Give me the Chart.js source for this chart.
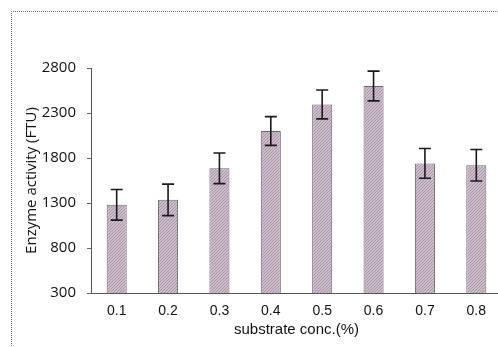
<!DOCTYPE html>
<html>
<head>
<meta charset="utf-8">
<script src="https://cdn.jsdelivr.net/npm/chart.js@4.4.1/dist/chart.umd.min.js"></script>
<style>
    html, body { margin: 0; padding: 0; background: #fff; overflow: hidden; }
    #wrap { position: relative; width: 498px; height: 347px; overflow: hidden; }
    #frame {
        position: absolute; left: 11px; top: 11px; width: 600px; height: 400px;
        border-left: 1px dotted #666; border-top: 1px dotted #777;
    }
    #chartBox { position: absolute; left: 0; top: 0; width: 506px; height: 347px; }
</style>
</head>
<body>
<div id="wrap">
    <div id="frame"></div>
    <div id="chartBox"><canvas id="enzymeChart"></canvas></div>
</div>
<script>
// values
const concLabels = ['0.1', '0.2', '0.3', '0.4', '0.5', '0.6', '0.7', '0.8'];
const activity = [1280, 1335, 1685, 2100, 2395, 2600, 1740, 1720];
const activityErr = [170, 175, 170, 160, 160, 165, 165, 175];
const yTicks = [300, 800, 1300, 1800, 2300, 2800];

// grainy pink-grey fill like the scanned bars
function barPattern() {
    const c = document.createElement('canvas');
    c.width = 3;
    c.height = 3;
    const g = c.getContext('2d');
    g.fillStyle = '#cdbccb';
    g.fillRect(0, 0, 3, 3);
    g.fillStyle = '#a898a6';
    g.fillRect(0, 0, 1, 1);
    g.fillRect(2, 1, 1, 1);
    g.fillRect(1, 2, 1, 1);
    return g.createPattern(c, 'repeat');
}

const errorBars = {
    id: 'errorBars',
    afterDatasetsDraw(chart) {
        const ctx = chart.ctx;
        const y = chart.scales.y;
        const meta = chart.getDatasetMeta(0);
        ctx.save();
        ctx.strokeStyle = '#1a1a1a';
        ctx.lineWidth = 1.6;
        meta.data.forEach((bar, i) => {
            const top = y.getPixelForValue(activity[i] + activityErr[i]);
            const bot = y.getPixelForValue(activity[i] - activityErr[i]);
            ctx.beginPath();
            ctx.moveTo(bar.x, top);
            ctx.lineTo(bar.x, bot);
            ctx.moveTo(bar.x - 6, top);
            ctx.lineTo(bar.x + 6, top);
            ctx.moveTo(bar.x - 6, bot);
            ctx.lineTo(bar.x + 6, bot);
            ctx.stroke();
        });
        ctx.restore();
    }
};

const ctx = document.getElementById('enzymeChart').getContext('2d');

new Chart(ctx, {
    type: 'bar',
    data: {
        labels: concLabels,
        datasets: [{
            label: 'Enzyme activity',
            data: activity,
            backgroundColor: barPattern(),
            borderColor: '#6f6571',
            borderWidth: 1,
            barPercentage: 0.39,
            categoryPercentage: 1
        }]
    },
    options: {
        responsive: true,
        maintainAspectRatio: false,
        animation: false,
        layout: {
            padding: { left: 0, right: 4, top: 68, bottom: 0 }
        },
        scales: {
            y: {
                min: 300,
                max: 2800,
                afterBuildTicks: (scale) => {
                    scale.ticks = yTicks.map(v => ({ value: v }));
                },
                afterFit: (scale) => {
                    scale.width = 91;
                },
                title: {
                    display: true,
                    text: 'Enzyme activity (FTU)',
                    color: '#111',
                    padding: { top: 23, bottom: 0 },
                    font: { family: 'Open Sans', size: 15 }
                },
                grid: {
                    drawOnChartArea: false,
                    drawTicks: true,
                    tickLength: 4,
                    color: '#666'
                },
                border: {
                    display: true,
                    color: '#555',
                    dash: [2, 1]
                },
                ticks: {
                    color: '#111',
                    padding: 11,
                    callback: (v) => String(v),
                    font: { family: 'Open Sans', size: 15 }
                }
            },
            x: {
                afterFit: (scale) => {
                    scale.height = 54;
                },
                title: {
                    display: true,
                    text: 'substrate conc.(%)',
                    color: '#111',
                    padding: { top: 4, bottom: 8 },
                    font: { family: 'Liberation Sans', size: 15 }
                },
                grid: {
                    drawOnChartArea: false,
                    drawTicks: false
                },
                border: {
                    display: true,
                    color: '#555',
                    dash: [2, 1]
                },
                ticks: {
                    color: '#111',
                    padding: 10,
                    font: { family: 'Liberation Sans', size: 14 }
                }
            }
        },
        plugins: {
            legend: { display: false },
            tooltip: { enabled: false }
        }
    },
    plugins: [errorBars]
});
</script>
</body>
</html>
